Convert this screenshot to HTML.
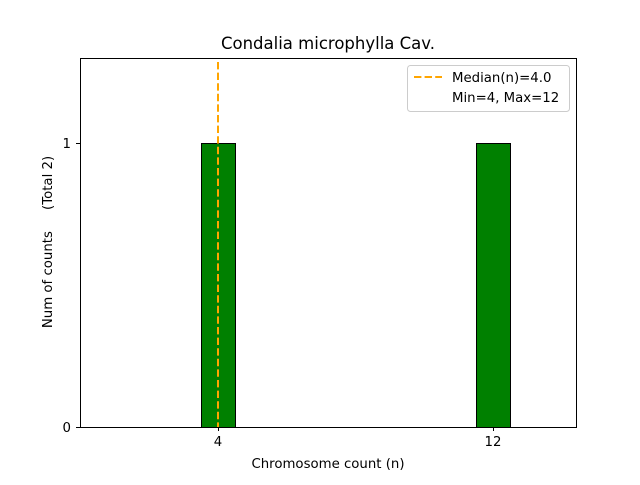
<!DOCTYPE html>
<html><head><style>body{margin:0;background:#fff}</style></head><body>
<svg width="640" height="480" xmlns="http://www.w3.org/2000/svg" font-family="DejaVu Sans, Liberation Sans, sans-serif">
<rect width="640" height="480" fill="#fff"/>
<text x="328" y="49" font-size="16.5" text-anchor="middle">Condalia microphylla Cav.</text>
<rect x="201.5" y="143.5" width="34" height="284" fill="#008000" stroke="#000" stroke-width="1"/>
<rect x="476.5" y="143.5" width="34" height="284" fill="#008000" stroke="#000" stroke-width="1"/>
<line x1="218" y1="62" x2="218" y2="427" stroke="#FFA500" stroke-width="2" stroke-dasharray="7.4,3.2"/>
<rect x="80.5" y="58.5" width="496" height="369" fill="none" stroke="#000" stroke-width="1"/>
<g stroke="#000"><line x1="76" y1="143.5" x2="80" y2="143.5"/><line x1="76" y1="427.5" x2="80" y2="427.5"/>
<line x1="218.5" y1="427" x2="218.5" y2="431"/><line x1="493.5" y1="427" x2="493.5" y2="431"/></g>
<g font-size="13.3"><text x="71" y="148" text-anchor="end">1</text><text x="71" y="432" text-anchor="end">0</text>
<text x="218" y="446" text-anchor="middle">4</text><text x="493" y="446" text-anchor="middle">12</text>
<text x="328" y="468" text-anchor="middle">Chromosome count (n)</text>
<text transform="translate(52,242) rotate(-90)" text-anchor="middle" xml:space="preserve">Num of counts     (Total 2)</text></g>
<rect x="407.5" y="65.5" width="162" height="46" rx="3" fill="#fff" stroke="#ccc"/>
<line x1="414" y1="77" x2="442" y2="77" stroke="#FFA500" stroke-width="2" stroke-dasharray="7.4,3.2"/>
<g font-size="13.3"><text x="452" y="82">Median(n)=4.0</text><text x="452" y="102">Min=4, Max=12</text></g>
</svg>
</body></html>
